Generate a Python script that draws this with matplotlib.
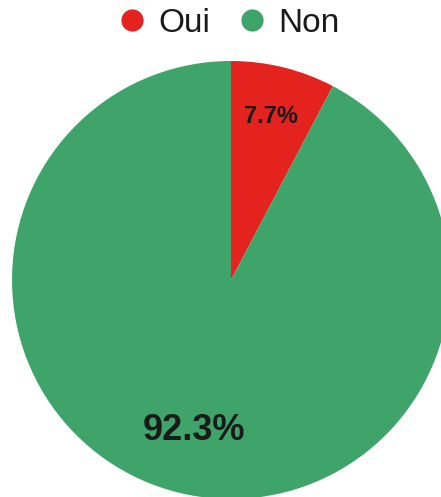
import numpy as np
import matplotlib
matplotlib.use("Agg")
import matplotlib.pyplot as plt
from matplotlib.lines import Line2D

plt.rcParams['font.family'] = ['Liberation Sans', 'DejaVu Sans']

categories = ["Oui", "Non"]
values = [7.7, 92.3]
colors = ["#E4231E", "#3EA46A"]
label_sizes = [17, 26]
label_dist = [0.77, 0.71]

W, H = 441, 497
cx, cy, R = 231, 280, 219

fig = plt.figure(figsize=(W / 100, H / 100), dpi=100)
ax = fig.add_axes([0, 0, 1, 1])

wedges, _ = ax.pie(values, colors=colors, startangle=90, counterclock=False,
                   radius=1.0, wedgeprops=dict(linewidth=0, antialiased=True))

for w, v, fs, d in zip(wedges, values, label_sizes, label_dist):
    mid = np.deg2rad((w.theta1 + w.theta2) / 2)
    ax.text(d * np.cos(mid), d * np.sin(mid), f"{v:.1f}%", ha="center", va="center",
            fontsize=fs, fontweight="bold", color="#1a1a1a")

# Map pixels to data units so the pie sits at its place and runs off the right/bottom
ax.set_xlim(-cx / R, (W - cx) / R)
ax.set_ylim(-(H - cy) / R, cy / R)
ax.set_aspect("auto")
ax.axis("off")

handles = [Line2D([0], [0], marker="o", linestyle="none", markersize=15,
                  markerfacecolor=c, markeredgecolor=c) for c in colors]
fig.legend(handles, categories, loc="center", bbox_to_anchor=(231 / W, 1 - 23 / H),
           ncol=2, frameon=False, fontsize=24, handlelength=0.6, handletextpad=0.48,
           columnspacing=0.96, borderpad=0, borderaxespad=0, labelcolor="#1a1a1a")

fig.savefig("out.png", dpi=100)
